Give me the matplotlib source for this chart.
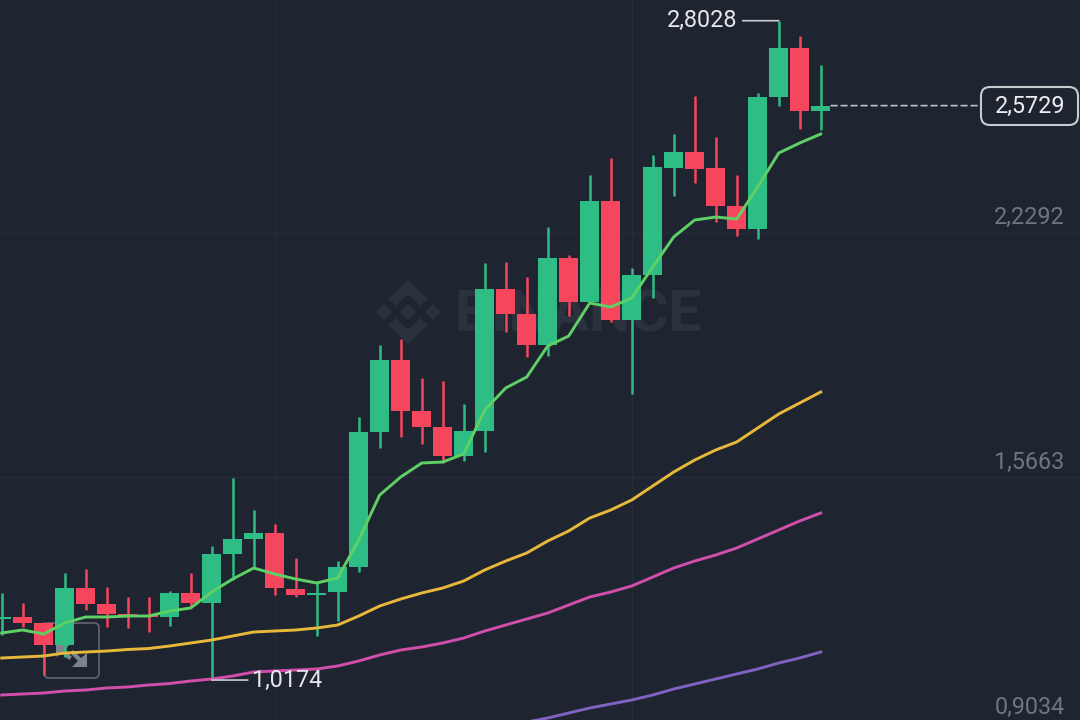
import numpy as np
import matplotlib
matplotlib.use("Agg")
import matplotlib.pyplot as plt
from matplotlib.patches import FancyBboxPatch, Polygon
from matplotlib.transforms import Affine2D

opens = [1.1827, 1.1881, 1.1719, 1.1123, 1.2666, 1.2233, 1.1962, 1.1935, 1.1881, 1.2531,
         1.2260, 1.3587, 1.3993, 1.4156, 1.2639, 1.2477, 1.2558, 1.3235, 1.6890, 1.8840,
         1.7459, 1.7026, 1.6241, 1.6918, 2.0763, 2.0086, 1.9246, 2.1602, 2.0411, 2.3146,
         1.9923, 2.1142, 2.4039, 2.4472, 2.4039, 2.3010, 2.2387, 2.5962, 2.7288, 2.5582]
highs = [1.2531, 1.2260, 1.1746, 1.3072, 1.3181, 1.2693, 1.2423, 1.2423, 1.2585, 1.3072,
         1.3804, 1.5645, 1.4778, 1.4399, 1.3479, 1.2829, 1.3397, 1.7297, 1.9246, 1.9409,
         1.8353, 1.8271, 1.7649, 2.1467, 2.1494, 2.1088, 2.2441, 2.1683, 2.3850, 2.4310,
         2.1331, 2.4391, 2.4960, 2.5989, 2.4878, 2.3850, 2.6070, 2.8028, 2.7613, 2.6828]
lows = [1.1394, 1.1610, 1.0311, 1.0798, 1.2071, 1.1610, 1.1583, 1.1475, 1.1637, 1.2179,
        1.0174, 1.2883, 1.3208, 1.2477, 1.2423, 1.1367, 1.1773, 1.3100, 1.6457, 1.6755,
        1.6566, 1.6051, 1.6105, 1.6349, 1.9598, 1.8921, 1.8948, 2.0032, 2.0411, 1.9869,
        1.7919, 2.0519, 2.3281, 2.3633, 2.2577, 2.2198, 2.2117, 2.5718, 2.5095, 2.5068]
closes = [1.1881, 1.1719, 1.1123, 1.2666, 1.2233, 1.1962, 1.1935, 1.1881, 1.2531, 1.2260,
          1.3587, 1.3993, 1.4156, 1.2666, 1.2477, 1.2531, 1.3235, 1.6890, 1.8840, 1.7459,
          1.7026, 1.6241, 1.6918, 2.0763, 2.0086, 1.9246, 2.1602, 2.0411, 2.3146, 1.9923,
          2.1142, 2.4066, 2.4472, 2.4012, 2.3010, 2.2387, 2.5962, 2.7288, 2.5582, 2.5729]

ma7 = [1.1448, 1.1529, 1.1421, 1.1719, 1.1881, 1.1881, 1.1908, 1.1908, 1.2044, 1.2125,
       1.2558, 1.2910, 1.3208, 1.3045, 1.2910, 1.2802, 1.2937, 1.3966, 1.5185, 1.5672,
       1.6051, 1.6078, 1.6295, 1.7486, 1.8082, 1.8380, 1.9219, 1.9490, 2.0384, 2.0275,
       2.0519, 2.1358, 2.2171, 2.2631, 2.2712, 2.2658, 2.3525, 2.4445, 2.4716, 2.4960]
ma25 = [1.0771, 1.0798, 1.0825, 1.0906, 1.0933, 1.0960, 1.1001, 1.1028, 1.1096, 1.1177,
        1.1258, 1.1367, 1.1475, 1.1502, 1.1529, 1.1583, 1.1664, 1.1908, 1.2179, 1.2368,
        1.2531, 1.2666, 1.2856, 1.3154, 1.3397, 1.3614, 1.3939, 1.4210, 1.4562, 1.4778,
        1.5049, 1.5428, 1.5807, 1.6132, 1.6403, 1.6620, 1.6999, 1.7378, 1.7676, 1.7974]
ma99 = [0.9769, 0.9796, 0.9823, 0.9877, 0.9904, 0.9959, 0.9986, 1.0040, 1.0080, 1.0148,
        1.0202, 1.0283, 1.0392, 1.0419, 1.0446, 1.0473, 1.0554, 1.0690, 1.0852, 1.0987,
        1.1069, 1.1177, 1.1312, 1.1502, 1.1664, 1.1827, 1.1989, 1.2206, 1.2423, 1.2558,
        1.2720, 1.2964, 1.3208, 1.3397, 1.3560, 1.3749, 1.3993, 1.4237, 1.4481, 1.4697]
ma200_start = 25
ma200 = [0.9038, 0.9146, 0.9282, 0.9417, 0.9525, 0.9634, 0.9769, 0.9931, 1.0067, 1.0202,
         1.0338, 1.0473, 1.0635, 1.0771, 1.0933]

price_ticks = [2.2292, 1.5663, 0.9034]
tick_labels = ["2,2292", "1,5663", "0,9034"]
grid_candles = [13, 30]
high_idx, low_idx = 37, 10
last_price = 2.5729

BG = "#1f2530"
GREEN = "#2ebd85"
RED = "#f6465d"
GRID = "#272d38"
MARK = "#2b313d"

plt.rcParams["font.family"] = ["Roboto", "DejaVu Sans"]

fig = plt.figure(figsize=(10.8, 7.2), dpi=100, facecolor=BG)
ax = fig.add_axes([0, 0, 1, 1], facecolor=BG)
ax.set_xlim(-0.081, 51.348)
ax.set_ylim(0.9092, 2.8589)
ax.axis("off")

# pixel coords, origin top left, for the decorations
px = Affine2D().scale(1, -1).translate(0, 720)

for p in price_ticks[:2]:
    ax.axhline(p, color=GRID, lw=1, zorder=1)
for c in grid_candles:
    ax.axvline(c, color=GRID, lw=1, zorder=1)

# watermark
logo = [
    [(408, 280), (428, 299), (420, 306), (408, 294), (396, 306), (388, 299)],
    [(408, 344), (428, 325), (420, 318), (408, 330), (396, 318), (388, 325)],
    [(408, 304), (416, 312), (408, 320), (400, 312)],
    [(384, 304), (392, 312), (384, 320), (376, 312)],
    [(433, 304), (441, 312), (433, 320), (425, 312)],
]
for pts in logo:
    ax.add_patch(Polygon(pts, closed=True, fc=MARK, ec="none", transform=px, zorder=1.5))
ax.text(454, 316, "BINANCE", transform=px, fontsize=42, fontweight="bold", color=MARK,
        ha="left", va="center", zorder=1.5)

# expand icon, sits under the candles
ax.add_patch(FancyBboxPatch((47, 626), 49, 49, boxstyle="round,pad=3,rounding_size=5", fc="none",
                            ec="#5c626d", lw=1.3, transform=px, zorder=1.6))
ax.add_patch(Polygon([(87, 653), (87, 667), (72, 667), (78, 661), (70, 653), (73, 650), (81, 658)],
                     closed=True, fc="#7d8490", ec="none", transform=px, zorder=1.6))
ax.add_patch(Polygon([(56, 644), (70, 644), (65, 650), (72, 657), (69, 660), (61, 652), (56, 657)],
                     closed=True, fc="#7d8490", ec="none", transform=px, zorder=1.6))

x = np.arange(len(opens))
o = np.array(opens)
c = np.array(closes)
colors = [GREEN if b >= a else RED for a, b in zip(opens, closes)]
ax.vlines(x, lows, highs, colors=colors, lw=1.8, zorder=2)
ax.bar(x, np.abs(c - o), bottom=np.minimum(o, c), width=0.89, color=colors, lw=0, zorder=2)

ax.plot(x, ma99, color="#d14fab", lw=2.1, zorder=3)
ax.plot(x[ma200_start:], ma200, color="#7f62c2", lw=2.1, zorder=3)
ax.plot(x, ma25, color="#e8b83a", lw=2.1, zorder=3)
ax.plot(x, ma7, color="#5fd066", lw=2.1, zorder=3)

FS = 16.8
for p, lab in zip(price_ticks, tick_labels):
    ax.annotate(lab, xy=(1064.5 / 1080, p), xycoords=("axes fraction", "data"),
                xytext=(0, 10.5), textcoords="offset points", ha="right", va="center",
                fontsize=FS, color="#6e7583", zorder=5)

# high / low markers
ax.annotate("2,8028", xy=(high_idx, highs[high_idx]), xytext=(-30, 0), textcoords="offset points",
            ha="right", va="center", fontsize=FS, color="#e6e8eb", zorder=5,
            arrowprops=dict(arrowstyle="-", color="#c9ccd1", lw=1.2, shrinkA=2, shrinkB=0))
ax.annotate("1,0174", xy=(low_idx, lows[low_idx]), xytext=(29, 0), textcoords="offset points",
            ha="left", va="center", fontsize=FS, color="#e6e8eb", zorder=5,
            arrowprops=dict(arrowstyle="-", color="#c9ccd1", lw=1.2, shrinkA=1, shrinkB=0))

# last price line and box
ax.annotate("", xy=(981 / 1080, last_price), xycoords=("axes fraction", "data"),
            xytext=(39.5, last_price), textcoords="data",
            arrowprops=dict(arrowstyle="-", color="#bfc3c9", lw=1.2, linestyle=(0, (3.5, 2.5)),
                            shrinkA=0, shrinkB=0), zorder=4)
ax.add_patch(FancyBboxPatch((989, 95), 81, 22, boxstyle="round,pad=8,rounding_size=9", fc=BG,
                            ec="#c8ccd1", lw=1.5, transform=px, zorder=5))
ax.text(1030, 106, "2,5729", transform=px, fontsize=FS, color="#eceef0", ha="center",
        va="center", zorder=6)

fig.savefig("out.png", dpi=100, facecolor=BG)
